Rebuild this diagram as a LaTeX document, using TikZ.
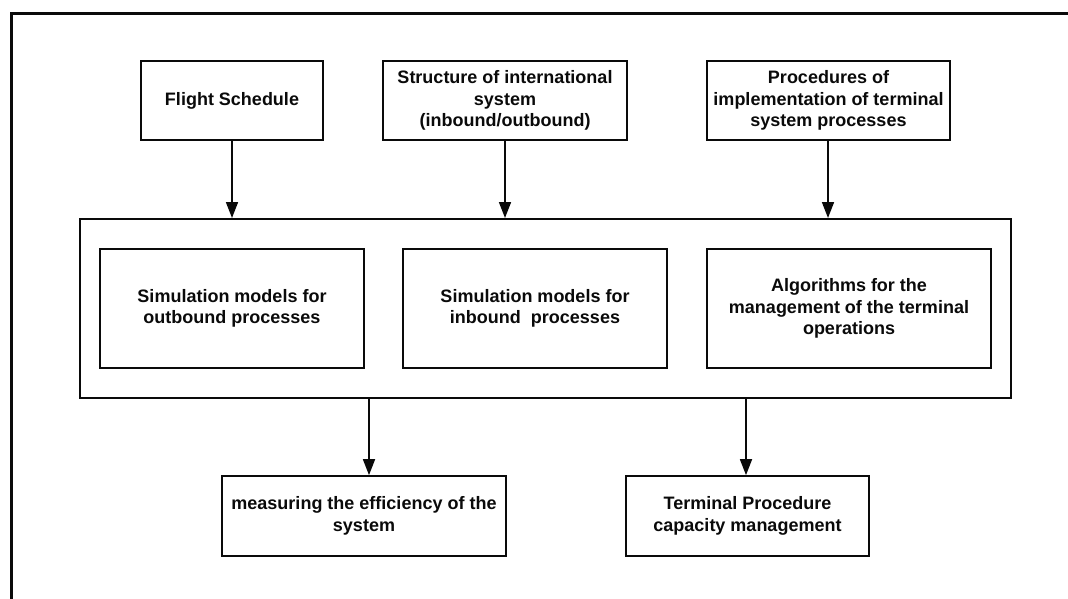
\documentclass[tikz,border=0pt]{standalone}
\usepackage{fontspec}
\setmainfont{Liberation Sans}
\usetikzlibrary{arrows.meta}
\definecolor{ink}{HTML}{0A0A0A}
\begin{document}
\begin{tikzpicture}[x=1pt,y=-1pt,
  every node/.style={font=\bfseries\fontsize{18}{21.5}\selectfont, text=ink, align=center},
  box/.style={draw=ink, line width=1.7pt, rectangle, inner sep=0pt},
  arr/.style={draw=ink, line width=1.7pt, -{Triangle[width=12pt,length=16pt]}}]
\useasboundingbox (0,0) rectangle (1068,599);
% page frame
\draw[ink, line width=3pt] (11,599) -- (11,14) -- (1068,14);
% inputs
\node[box, minimum width=182, minimum height=79] (fs) at (232,100.5) {Flight Schedule};
\node[box, minimum width=244, minimum height=79] (st) at (505,100.5) {Structure of international\\system\\(inbound/outbound)};
\node[box, minimum width=243, minimum height=79] (pr) at (828.5,100.5) {Procedures of\\implementation of terminal\\system processes};
% container with the three models
\node[box, line width=2pt, minimum width=931, minimum height=179] (cont) at (545.5,308.5) {};
\node[box, minimum width=264, minimum height=119] (m1) at (232,308.5) {Simulation models for\\outbound processes};
\node[box, minimum width=264, minimum height=119] (m2) at (535,308.5) {Simulation models for\\inbound\ \ processes};
\node[box, minimum width=284, minimum height=119] (m3) at (849,308.5) {Algorithms for the\\management of the terminal\\operations};
% outputs
\node[box, minimum width=284, minimum height=80] (b1) at (364,516) {measuring the efficiency of the\\system};
\node[box, minimum width=243, minimum height=80] (b2) at (747.5,516) {Terminal Procedure\\capacity management};
% connectors
\draw[arr] (fs.south) -- (fs.south |- cont.north);
\draw[arr] (st.south) -- (st.south |- cont.north);
\draw[arr] ([xshift=-0.5pt]pr.south) -- ([xshift=-0.5pt]pr.south |- cont.north);
\draw[arr] ([xshift=5pt]b1.north |- cont.south) -- ([xshift=5pt]b1.north);
\draw[arr] ([xshift=-1.5pt]b2.north |- cont.south) -- ([xshift=-1.5pt]b2.north);
\end{tikzpicture}
\end{document}
